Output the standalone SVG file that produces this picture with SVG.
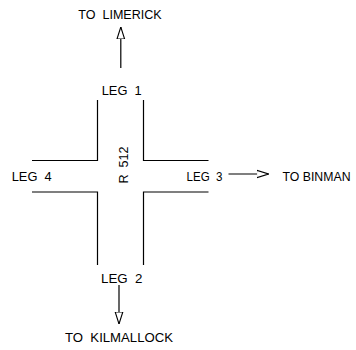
<svg xmlns="http://www.w3.org/2000/svg" width="356" height="350" viewBox="0 0 356 350">
  <style>
    .road { fill: none; stroke: #000; stroke-width: 1.2; }
    .lbl { font-family: "Liberation Sans", Arial, sans-serif; font-size: 13.5px; fill: #000; white-space: pre; }
    .dir { fill: none; stroke: #000; stroke-width: 1.2; }
  </style>
  <defs>
    <marker id="openHead" viewBox="0 0 12 10" refX="12" refY="5" markerWidth="12" markerHeight="10" markerUnits="userSpaceOnUse" orient="auto">
      <path d="M0,1.2 L12,5 L0,8.8 Z" fill="#fff" stroke="#000" stroke-width="1.1"/>
    </marker>
  </defs>
  <rect width="356" height="350" fill="#fff"/>

  <!-- junction kerb lines -->
  <g id="junction">
    <path class="road" d="M97.5,100 V160.5 H32"/>
    <path class="road" d="M143.5,100 V160.5 H208.5"/>
    <path class="road" d="M97.5,265 V192 H32"/>
    <path class="road" d="M143.5,265 V192 H208.5"/>
    <text class="lbl" xml:space="preserve" transform="translate(128.3,165) rotate(-90)" text-anchor="middle" textLength="37" lengthAdjust="spacingAndGlyphs">R  512</text>
  </g>

  <g id="leg1">
    <text class="lbl" xml:space="preserve" x="101.7" y="95" textLength="40" lengthAdjust="spacingAndGlyphs">LEG  1</text>
  </g>
  <g id="leg2">
    <text class="lbl" xml:space="preserve" x="101" y="283" textLength="41.5" lengthAdjust="spacingAndGlyphs">LEG  2</text>
  </g>
  <g id="leg3">
    <text class="lbl" xml:space="preserve" x="186.5" y="180.5" textLength="36" lengthAdjust="spacingAndGlyphs">LEG  3</text>
  </g>
  <g id="leg4">
    <text class="lbl" xml:space="preserve" x="11.7" y="180.5" textLength="40" lengthAdjust="spacingAndGlyphs">LEG  4</text>
  </g>

  <g id="limerick">
    <text class="lbl" xml:space="preserve" x="78.3" y="19" textLength="83.4" lengthAdjust="spacingAndGlyphs">TO  LIMERICK</text>
  </g>
  <g id="kilmallock">
    <text class="lbl" xml:space="preserve" x="65" y="341.7" textLength="108" lengthAdjust="spacingAndGlyphs">TO  KILMALLOCK</text>
  </g>
  <g id="binman">
    <text class="lbl" xml:space="preserve" x="282.5" y="180.5" style="font-size:12px" textLength="68" lengthAdjust="spacingAndGlyphs">TO BINMAN</text>
  </g>

  <!-- direction arrows -->
  <g id="connectors">
    <line class="dir" x1="120.8" y1="68" x2="120.8" y2="27" marker-end="url(#openHead)"/>
    <line class="dir" x1="119" y1="285" x2="119" y2="324" marker-end="url(#openHead)"/>
    <line class="dir" x1="228.5" y1="174" x2="268.5" y2="174" marker-end="url(#openHead)"/>
  </g>
</svg>
